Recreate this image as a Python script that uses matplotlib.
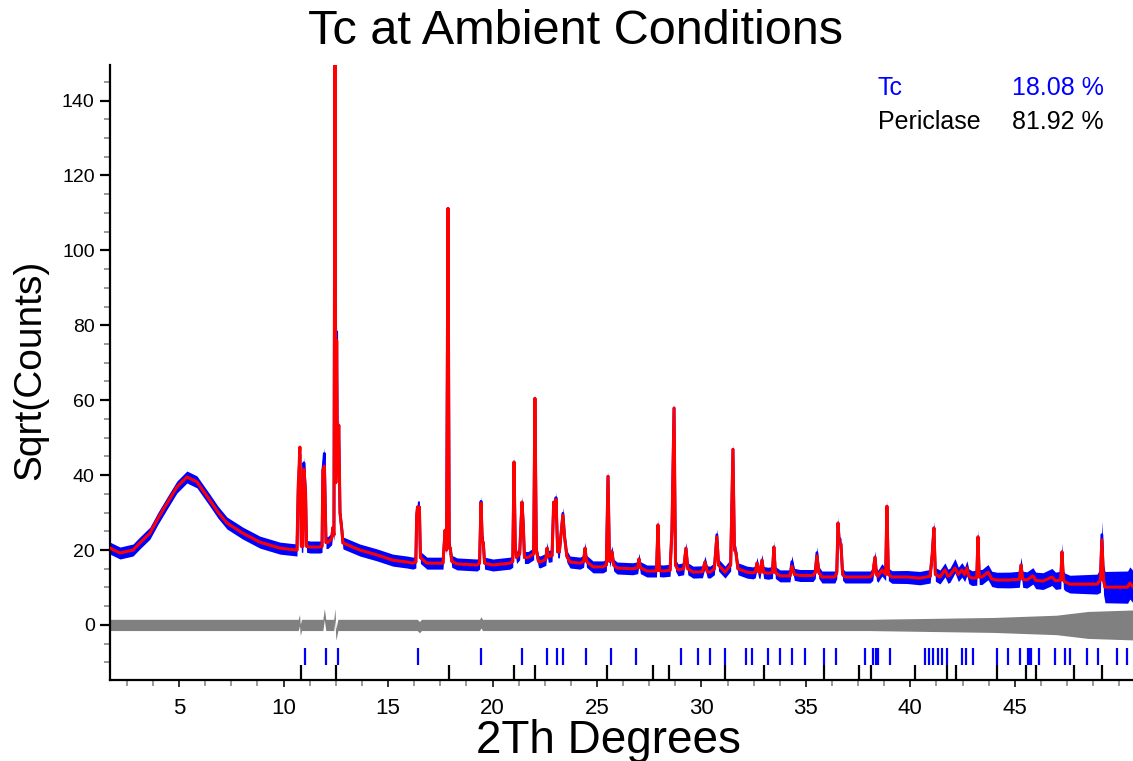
import numpy as np
import matplotlib
matplotlib.use('Agg')
import matplotlib.pyplot as plt
from matplotlib.ticker import MultipleLocator

plt.rcParams['font.family'] = ['Liberation Sans', 'DejaVu Sans']

# ---------------- data ----------------
two_theta = [
    1.69, 2.17, 2.79, 3.12, 3.60, 3.99, 4.42, 4.89, 5.37, 5.85,
    6.47, 6.86, 7.29, 8.05, 8.87, 9.83, 10.64, 10.70, 10.78, 10.85,
    10.92, 10.97, 11.05, 11.10, 11.26, 11.74, 11.84, 11.88, 11.95, 12.03,
    12.12, 12.30, 12.36, 12.41, 12.46, 12.50, 12.54, 12.58, 12.64, 12.70,
    12.79, 12.84, 13.65, 14.47, 15.23, 15.90, 16.19, 16.33, 16.37, 16.41,
    16.50, 16.55, 16.86, 17.63, 17.73, 17.80, 17.87, 17.93, 17.98, 18.05,
    18.30, 19.26, 19.38, 19.45, 19.51, 19.56, 19.62, 20.02, 20.84, 20.97,
    21.03, 21.09, 21.15, 21.30, 21.41, 21.47, 21.53, 21.70, 21.97, 22.03,
    22.10, 22.20, 22.27, 22.55, 22.61, 22.67, 22.85, 22.93, 22.99, 23.04,
    23.12, 23.20, 23.37, 23.45, 23.56, 23.71, 24.19, 24.36, 24.43, 24.50,
    24.81, 25.29, 25.45, 25.53, 25.60, 25.72, 25.80, 25.96, 26.72, 26.95,
    27.01, 27.08, 27.39, 27.85, 27.92, 27.99, 28.16, 28.50, 28.59, 28.69,
    28.76, 28.88, 29.15, 29.26, 29.35, 29.60, 30.05, 30.17, 30.28, 30.41,
    30.62, 30.74, 30.82, 31.13, 31.40, 31.46, 31.51, 31.58, 31.65, 31.75,
    32.18, 32.47, 32.58, 32.66, 32.74, 32.80, 32.90, 32.98, 33.19, 33.40,
    33.47, 33.54, 33.76, 34.24, 34.33, 34.45, 34.72, 35.34, 35.45, 35.53,
    35.62, 35.77, 36.39, 36.48, 36.54, 36.60, 36.68, 36.76, 36.87, 38.07,
    38.20, 38.31, 38.38, 38.45, 38.64, 38.82, 38.88, 38.95, 39.12, 39.84,
    40.46, 40.95, 41.05, 41.13, 41.20, 41.42, 41.66, 41.80, 41.90, 42.14,
    42.30, 42.47, 42.60, 42.71, 42.80, 42.95, 43.18, 43.24, 43.30, 43.43,
    43.72, 43.90, 44.15, 44.77, 45.22, 45.30, 45.38, 45.58, 45.87, 46.00,
    46.35, 46.78, 46.95, 47.20, 47.26, 47.33, 47.40, 47.64, 48.94, 49.10,
    49.17, 49.25, 49.32, 50.40, 50.51, 50.66,
]

y_calc = [
    20.5, 19.2, 20.0, 21.9, 24.5, 28.5, 32.5, 36.8, 39.5, 38.2,
    33.3, 30.1, 27.2, 24.5, 22.1, 20.5, 20.0, 37.0, 47.5, 21.0,
    21.0, 41.6, 35.5, 21.0, 20.8, 20.8, 21.0, 41.3, 42.4, 22.0,
    22.0, 23.0, 26.0, 24.0, 152.0, 38.0, 76.0, 40.0, 53.3, 30.0,
    25.3, 21.9, 20.0, 18.7, 17.3, 16.8, 16.5, 16.8, 29.0, 31.5,
    31.5, 18.0, 16.5, 16.5, 25.3, 20.0, 111.2, 20.5, 20.5, 17.0,
    16.3, 16.0, 16.5, 32.5, 22.4, 22.0, 16.5, 16.0, 16.5, 17.0,
    43.5, 20.8, 18.0, 19.0, 32.8, 27.2, 18.0, 18.0, 19.0, 60.5,
    20.0, 17.0, 16.8, 17.5, 20.5, 18.3, 18.5, 32.8, 29.0, 33.5,
    19.5, 19.5, 29.3, 23.5, 18.3, 16.8, 16.5, 17.0, 20.5, 17.0,
    15.5, 15.5, 16.0, 39.7, 17.0, 19.5, 16.0, 15.2, 15.0, 15.3,
    17.6, 15.3, 14.4, 14.4, 26.7, 14.5, 14.4, 14.6, 25.3, 57.9,
    16.0, 14.7, 15.0, 20.5, 15.0, 14.1, 14.2, 16.8, 14.2, 14.1,
    15.0, 23.5, 16.0, 14.1, 16.0, 33.3, 46.9, 20.0, 19.5, 15.0,
    14.1, 13.9, 14.2, 16.5, 14.2, 13.9, 17.3, 14.0, 13.8, 14.0,
    20.8, 14.0, 13.1, 13.1, 15.7, 13.5, 13.2, 13.2, 14.0, 18.4,
    14.0, 12.8, 12.8, 14.0, 27.2, 22.0, 21.6, 13.5, 12.8, 12.8,
    13.5, 18.1, 13.5, 13.0, 14.7, 13.5, 31.7, 13.5, 12.8, 12.8,
    12.5, 13.0, 18.9, 25.9, 13.5, 12.8, 14.7, 13.0, 13.3, 15.2,
    13.5, 14.7, 13.5, 15.2, 13.0, 12.5, 12.6, 23.5, 12.8, 12.8,
    14.1, 12.3, 12.0, 12.0, 12.2, 16.0, 12.2, 12.0, 13.1, 11.9,
    11.7, 12.8, 11.8, 12.0, 19.5, 12.0, 11.5, 10.9, 10.9, 12.0,
    22.7, 12.0, 10.1, 10.1, 11.2, 10.2,
]

y_obs = [
    20.5, 19.2, 20.0, 21.9, 24.5, 28.5, 32.5, 36.8, 39.5, 38.2,
    33.3, 30.1, 27.2, 24.5, 22.1, 20.5, 20.0, 36.0, 45.5, 21.0,
    21.0, 43.3, 35.5, 21.0, 20.8, 20.8, 21.0, 41.3, 45.8, 22.0,
    22.0, 23.0, 26.0, 24.0, 152.0, 38.0, 78.3, 40.0, 53.3, 30.0,
    25.3, 21.9, 20.0, 18.7, 17.3, 16.8, 16.5, 16.8, 29.0, 31.5,
    31.5, 18.0, 16.5, 16.5, 25.3, 20.0, 111.2, 20.5, 20.5, 17.0,
    16.3, 16.0, 16.5, 33.0, 22.4, 22.0, 16.5, 16.0, 16.5, 17.0,
    43.5, 20.8, 18.0, 19.0, 32.8, 27.2, 18.0, 18.0, 19.0, 60.5,
    20.0, 17.0, 16.8, 17.5, 20.5, 18.3, 18.5, 32.8, 29.0, 34.0,
    19.5, 19.5, 29.8, 23.5, 18.3, 16.8, 16.5, 17.0, 20.5, 17.0,
    15.5, 15.5, 16.0, 39.7, 17.0, 19.5, 16.0, 15.2, 15.0, 15.3,
    17.6, 15.3, 14.4, 14.4, 26.7, 14.5, 14.4, 14.6, 25.3, 57.9,
    16.0, 14.7, 15.0, 20.5, 15.0, 14.1, 14.2, 16.8, 14.2, 14.1,
    15.0, 24.1, 16.0, 14.1, 16.0, 33.3, 46.9, 20.0, 19.5, 15.0,
    14.1, 13.9, 14.2, 16.5, 14.2, 13.9, 17.3, 14.0, 13.8, 14.0,
    20.8, 14.0, 13.1, 13.1, 16.9, 13.5, 13.2, 13.2, 14.0, 19.3,
    14.0, 12.8, 12.8, 14.0, 27.2, 22.0, 21.6, 13.5, 12.8, 12.8,
    13.5, 18.1, 13.5, 13.0, 14.7, 13.5, 31.7, 13.5, 12.8, 12.8,
    12.5, 13.0, 18.9, 25.9, 13.5, 12.8, 14.7, 13.0, 13.3, 15.8,
    13.5, 14.7, 13.5, 15.2, 13.0, 12.5, 12.6, 23.5, 12.8, 12.8,
    14.1, 12.3, 12.0, 12.0, 12.2, 16.0, 12.2, 12.0, 13.1, 11.9,
    11.7, 12.8, 11.8, 12.0, 19.5, 12.0, 11.5, 10.9, 10.9, 12.0,
    24.1, 12.0, 10.1, 10.1, 11.2, 10.2,
]

# estimated scatter (half-width) of the observed points
noise_x = [1.69, 38.0, 42.0, 46.0, 48.9, 49.35, 50.66]
noise_hw = [1.6, 1.6, 1.9, 2.2, 2.5, 4.3, 4.3]

# difference curve (obs - calc)
diff_x = [1.69, 10.70, 10.76, 10.80, 10.86, 10.92, 11.88, 11.95, 12.02,
          12.40, 12.46, 12.50, 12.60, 16.40, 16.50, 16.60, 19.38, 19.45,
          19.52, 38.0, 44.0, 47.0, 48.5, 50.66]
diff_y = [0.0, 0.0, 1.3, -1.3, 0.0, 0.0, 0.0, 2.9, 0.0,
          0.0, 2.9, -2.6, 0.0, 0.0, -0.6, 0.0, 0.0, 0.7,
          0.0, 0.0, 0.0, 0.0, 0.0, 0.0]
diff_hw = [1.5, 1.5, 1.5, 1.5, 1.5, 1.5, 1.5, 1.5, 1.5,
           1.5, 1.5, 1.5, 1.5, 1.5, 1.5, 1.5, 1.5, 1.5,
           1.5, 1.5, 2.0, 2.6, 3.6, 4.0]

# reflection markers
tc_ticks = [11.01, 12.01, 12.59, 16.42, 19.45, 21.42, 22.59, 23.10, 23.39,
            24.47, 25.67, 26.87, 29.01, 29.85, 30.41, 31.14, 32.13, 32.43,
            33.20, 33.76, 34.32, 34.96, 35.88, 36.44, 37.83, 38.20, 38.34,
            38.44, 39.03, 40.70, 40.91, 41.10, 41.34, 41.50, 41.74, 42.46,
            42.66, 43.01, 44.13, 44.69, 45.25, 45.62, 45.70, 45.76, 46.17,
            46.92, 47.40, 47.64, 48.47, 48.97, 49.89, 50.37]
periclase_ticks = [10.83, 12.49, 17.90, 21.03, 22.02, 25.46, 27.70, 28.45,
                   31.13, 32.99, 35.88, 37.54, 38.10, 40.22, 41.74, 42.19,
                   44.13, 45.52, 46.00, 47.85, 49.16]

x_tick_values = [5, 10, 15, 20, 25, 30, 35, 40, 45]
y_tick_values = [0, 20, 40, 60, 80, 100, 120, 140]

phase_names = ['Tc', 'Periclase']
phase_pct = [18.08, 81.92]
phase_colors = ['#0000ff', '#000000']

# ---------------- figure ----------------
W, H = 1133, 761
fig = plt.figure(figsize=(W / 100, H / 100), dpi=100)
ax = fig.add_axes([110 / W, 1 - 680 / H, 1 - 110 / W, (680 - 65) / H])
ax.set_xlim(1.69, 50.66)
ax.set_ylim(-14.7, 149.5)

tt = np.array(two_theta)
yc = np.array(y_calc)
yo = np.array(y_obs)
hw = np.interp(tt, noise_x, noise_hw)

ax.fill_between(tt, yo - hw, yo + hw, color='#0000ff', lw=0, zorder=2)
ax.plot(tt, yo, color='#0000ff', lw=2.0, zorder=2)
ax.plot(tt, yc, color='#ff0000', lw=2.2, zorder=3)

dx = np.array(diff_x)
dy = np.array(diff_y)
dh = np.array(diff_hw)
ax.fill_between(dx, dy - dh, dy + dh, color='#808080', lw=0, zorder=2)

ax.vlines(tc_ticks, -10.7, -6.2, color='#0000ff', lw=1.6, zorder=3)
ax.vlines(periclase_ticks, -14.7, -10.7, color='#000000', lw=1.6, zorder=3)

for s in ['top', 'right']:
    ax.spines[s].set_visible(False)
for s in ['left', 'bottom']:
    ax.spines[s].set_linewidth(1.6)
    ax.spines[s].set_color('black')

ax.set_xticks(x_tick_values)
ax.xaxis.set_minor_locator(MultipleLocator(1.25))
ax.set_yticks(y_tick_values)
ax.yaxis.set_minor_locator(MultipleLocator(5))

ax.tick_params(axis='x', which='major', length=5, width=1.4, color='#333333',
               labelsize=16, pad=8)
ax.tick_params(axis='x', which='minor', length=4, width=1.2, color='#888888')
ax.tick_params(axis='y', which='major', length=7, width=1.6, color='black',
               labelsize=14, pad=4)
ax.tick_params(axis='y', which='minor', length=4, width=1.2, color='#888888')

fig.text(575 / W, 1 - 31 / H, 'Tc at Ambient Conditions', ha='center',
         va='center', fontsize=35)
fig.text(608 / W, 1 - 741 / H, '2Th Degrees', ha='center', va='center',
         fontsize=33)
fig.text(30 / W, 1 - 370 / H, 'Sqrt(Counts)', ha='center', va='center',
         rotation=90, fontsize=28)

leg_y = [88, 122]
for name, pct, col, yy in zip(phase_names, phase_pct, phase_colors, leg_y):
    fig.text(878 / W, 1 - yy / H, name, color=col, ha='left', va='center',
             fontsize=18)
    fig.text(1104 / W, 1 - yy / H, f'{pct:.2f} %', color=col, ha='right',
             va='center', fontsize=18)

fig.savefig('out.png', dpi=100)
